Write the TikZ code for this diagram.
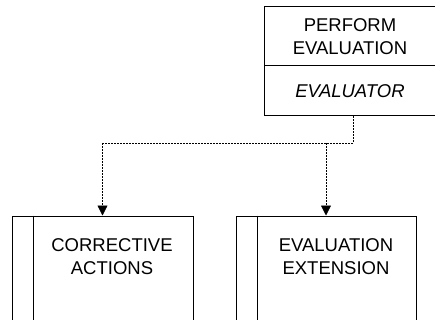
\documentclass[tikz,border=0pt]{standalone}
\usepackage{fontspec}
\setmainfont{Liberation Sans}
\usetikzlibrary{arrows.meta}
\begin{document}
\begin{tikzpicture}[x=1pt,y=-1pt,
  box/.style={draw=black, line width=1pt, rectangle, inner sep=0pt},
  lbl/.style={align=center, font=\fontsize{18.5}{22.5}\selectfont, inner sep=0pt},
  link/.style={line width=0.8pt, dash pattern=on 2pt off 1pt,
    -{Triangle[length=10pt,width=10pt]}},
  joint/.style={line width=0.8pt, dash pattern=on 2pt off 1pt}]
\useasboundingbox (0,0) rectangle (435,320);
\clip (0,0) rectangle (435,320);
% activity box with its performer
\node[box, minimum width=172pt, minimum height=59pt] (perf) at (350,36.5) {};
\node[lbl] (perftext) at (350,36.5) {PERFORM\\EVALUATION};
\node[box, minimum width=172pt, minimum height=50pt] (evr) at (350,91) {};
\node[lbl] (evrtext) at (350,91) {\itshape EVALUATOR};
% lower activity boxes, open towards the bottom
\node[box, minimum width=181pt, minimum height=130pt] (ca) at (102.5,281) {};
\draw[line width=1pt] (ca.north west) ++(22,0) coordinate (cabar) -- (cabar |- ca.south);
\node[lbl] (catext) at (112,256.5) {CORRECTIVE\\ACTIONS};
\node[box, minimum width=180pt, minimum height=130pt] (ee) at (326,281) {};
\draw[line width=1pt] (ee.north west) ++(22,0) coordinate (eebar) -- (eebar |- ee.south);
\node[lbl] (eetext) at (336,256.5) {EVALUATION\\EXTENSION};
% connectors
\coordinate (j) at (353,143);
\draw[joint] (evr.south -| j) -- (j) -- (j -| ca.north);
\draw[link] (j -| ca.north) -- (ca.north);
\draw[link] (j -| ee.north) -- (ee.north);
\end{tikzpicture}
\end{document}
